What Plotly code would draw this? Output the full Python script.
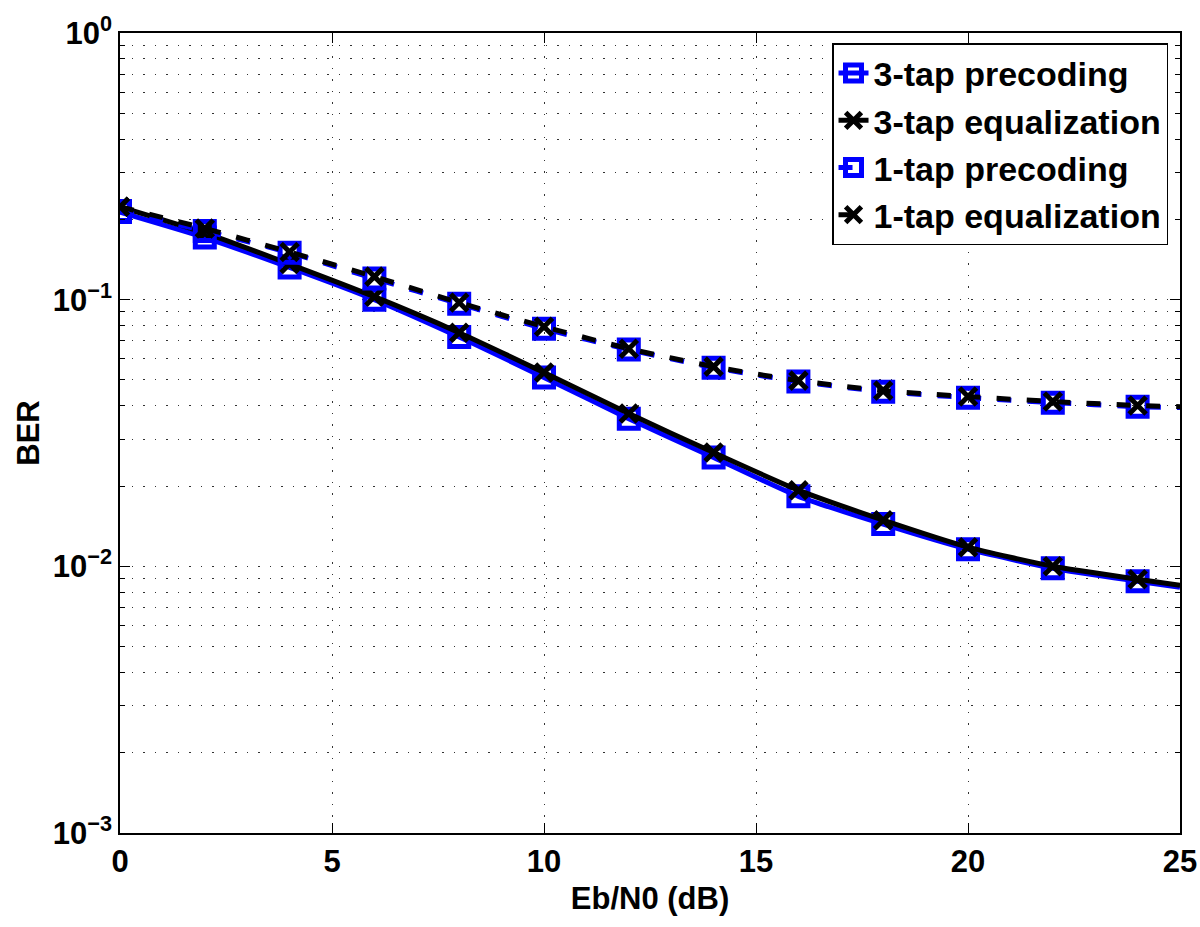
import plotly.graph_objects as go

# Data
ebn0 = [0, 2, 4, 6, 8, 10, 12, 14, 16, 18, 20, 22, 24, 25]
ber_3tap_precoding = [0.213, 0.171, 0.132, 0.100, 0.0724, 0.0511, 0.0358, 0.0256, 0.0183, 0.0144, 0.0116, 0.00984, 0.00879, 0.00834]
ber_3tap_equalization = [0.223, 0.178, 0.136, 0.1026, 0.0752, 0.0533, 0.0374, 0.0267, 0.0193, 0.0149, 0.0118, 0.0100, 0.00894, 0.00849]
ber_1tap_precoding = [0.215, 0.181, 0.150, 0.120, 0.0966, 0.0778, 0.0650, 0.0556, 0.0493, 0.0452, 0.0429, 0.0411, 0.0397, 0.0394]
ber_1tap_equalization = [0.223, 0.185, 0.151, 0.122, 0.0975, 0.0792, 0.0655, 0.0561, 0.0497, 0.0456, 0.0433, 0.0415, 0.0401, 0.0397]

series_names = ["3-tap precoding", "3-tap equalization", "1-tap precoding", "1-tap equalization"]

x_tickvals = [0, 5, 10, 15, 20, 25]
y_tickvals = [1e-3, 1e-2, 1e-1, 1e0]
y_ticktext = ["10<sup>\u22123</sup>", "10<sup>\u22122</sup>", "10<sup>\u22121</sup>", "10<sup>0</sup>"]
y_minor = [m * 10.0 ** e for e in (-3, -2, -1) for m in range(2, 10)]

FONT = "Liberation Sans, Arial, Helvetica, sans-serif"
BLUE = "#0000ff"
n = len(ebn0)
sq_sizes = [19] * (n - 1) + [0]
x_sizes = [17] * (n - 1) + [0]

fig = go.Figure()
specs = [
    (ber_3tap_precoding, BLUE, "solid", "square-open", sq_sizes, 5),
    (ber_3tap_equalization, "black", "solid", "x-thin-open", x_sizes, 5),
    (ber_1tap_precoding, BLUE, "14px,16px", "square-open", sq_sizes, 5),
    (ber_1tap_equalization, "black", "14px,16px", "x-thin-open", x_sizes, 5),
]
for name, (ys, col, dash, sym, sz, mlw) in zip(series_names, specs):
    fig.add_trace(go.Scatter(
        x=ebn0, y=ys, name=name, mode="lines+markers",
        line=dict(color=col, width=5, dash=dash, shape="spline", smoothing=0.6),
        marker=dict(symbol=sym, size=sz, color=col, opacity=1,
                    line=dict(color=col, width=mlw)),
    ))

axis_common = dict(
    showline=True, linecolor="black", linewidth=1.5, mirror="ticks",
    ticks="inside", ticklen=10, tickcolor="black", tickwidth=1,
    showgrid=True, gridcolor="#333333", gridwidth=1, griddash="1.5px,10px",
    zeroline=False, automargin=False,
    tickfont=dict(family=FONT, size=31, color="black", weight="bold"),
)

fig.update_layout(
    width=1200, height=927,
    margin=dict(l=120, r=20, t=33, b=94),
    paper_bgcolor="white", plot_bgcolor="white",
    font=dict(family=FONT, color="black"),
    xaxis=dict(
        range=[0, 25], tickvals=x_tickvals,
        title=dict(text="Eb/N0 (dB)", font=dict(family=FONT, size=31, weight="bold"), standoff=9),
        **axis_common,
    ),
    yaxis=dict(
        type="log", range=[-3, 0], tickvals=y_tickvals, ticktext=y_ticktext,
        title=dict(text="BER", font=dict(family=FONT, size=31, weight="bold"), standoff=4),
        minor=dict(tickvals=y_minor, ticks="inside", ticklen=5, tickcolor="black",
                   showgrid=True, gridcolor="#333333", gridwidth=1, griddash="1.5px,10px"),
        **axis_common,
    ),
    legend=dict(
        x=0.9887, y=0.9875, xanchor="right", yanchor="top",
        bgcolor="white", bordercolor="black", borderwidth=1.5,
        font=dict(family=FONT, size=34, color="black", weight="bold"),
        tracegroupgap=0,
    ),
    showlegend=True,
)

fig.write_html(
    "out.html",
    config={"displayModeBar": False},
    post_script="document.body.style.margin='0';document.body.style.overflow='hidden';",
)
